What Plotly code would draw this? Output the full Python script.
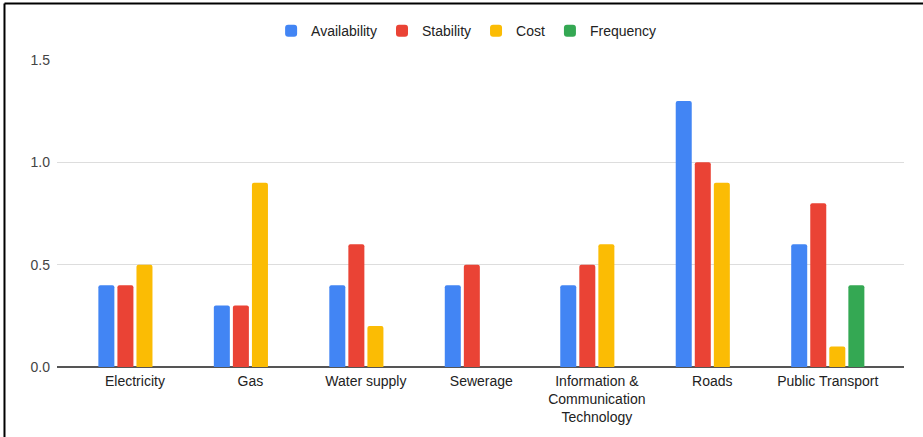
import plotly.graph_objects as go

categories = ["Electricity", "Gas", "Water supply", "Sewerage",
              "Information &<br>Communication<br>Technology", "Roads", "Public Transport"]
availability = [0.4, 0.3, 0.4, 0.4, 0.4, 1.3, 0.6]
stability = [0.4, 0.3, 0.6, 0.5, 0.5, 1.0, 0.8]
cost = [0.5, 0.9, 0.2, None, 0.6, 0.9, 0.1]
frequency = [None, None, None, None, None, None, 0.4]

series = [
    ("Availability", availability, "#4285F4"),
    ("Stability", stability, "#EA4335"),
    ("Cost", cost, "#FBBC04"),
    ("Frequency", frequency, "#34A853"),
]

fig = go.Figure()
for name, vals, color in series:
    fig.add_trace(go.Bar(name=name, x=categories, y=vals, marker_color=color,
                         marker_line_width=0))

font_family = "Liberation Sans, Arial, sans-serif"

fig.update_layout(
    width=923, height=437,
    margin=dict(l=57, r=19, t=60, b=70, autoexpand=False),
    paper_bgcolor="white", plot_bgcolor="white",
    barmode="group", bargap=0.34, bargroupgap=0.16,
    barcornerradius=2,
    font=dict(family=font_family, size=14, color="#444444"),
    legend=dict(orientation="h", xref="container", yref="container",
                x=0.505, xanchor="center", y=0.929, yanchor="middle",
                bgcolor="rgba(0,0,0,0)",
                font=dict(size=14, color="#222222"), itemwidth=30,
                traceorder="normal"),
    xaxis=dict(range=[-0.675, 6.66], showgrid=False, ticks="",
               showline=False, ticklabelstandoff=4,
               tickfont=dict(size=14, color="#222222")),
    yaxis=dict(range=[0, 1.5], tickvals=[0, 0.5, 1.0, 1.5], tickformat=".1f",
               showgrid=True, gridcolor="#dddddd", gridwidth=1,
               zeroline=True, zerolinecolor="#555555", zerolinewidth=2,
               showline=False, ticks="", ticklabelstandoff=6,
               tickfont=dict(size=14, color="#444444")),
    shapes=[
        dict(type="line", xref="paper", yref="paper",
             x0=-0.062, x1=1.06, y0=1.184, y1=1.184,
             line=dict(color="black", width=2)),
        dict(type="line", xref="paper", yref="paper",
             x0=-0.062, x1=-0.062, y0=1.184, y1=-0.26,
             line=dict(color="black", width=2)),
    ],
)

fig.write_html("out.html")
